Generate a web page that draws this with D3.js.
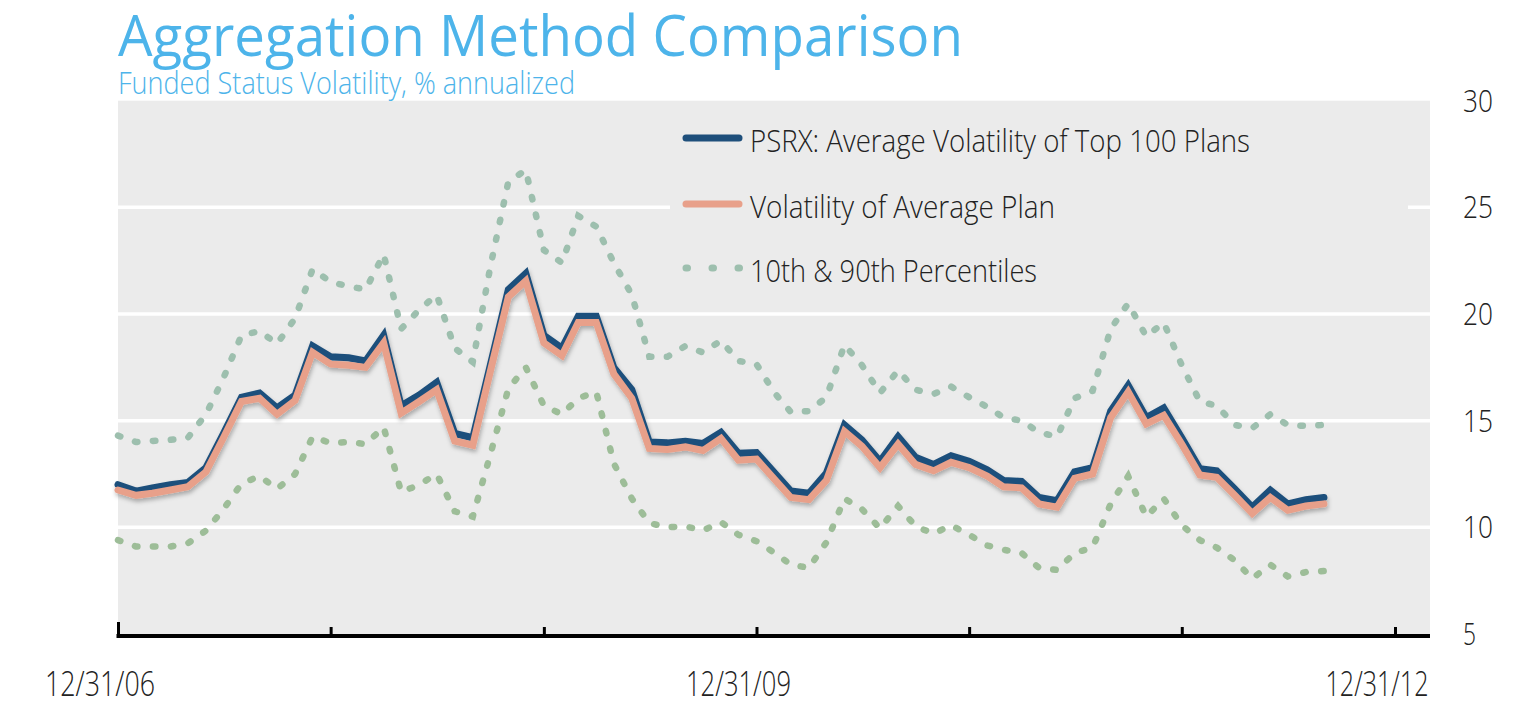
<!DOCTYPE html>
<html><head><meta charset="utf-8">
<script src="https://cdn.jsdelivr.net/npm/d3@7"></script>
<style>body{margin:0;background:#fff;} svg{display:block;}</style>
</head><body>
<svg id="chart" width="1536" height="719"></svg>
<script>
// ---- data ----
const firstMonth = "2007-01";   // month-end observations start at 12/31/06
const monthCount = 69;
const psrx = [12.0,11.7,11.85,12.0,12.1,12.8,14.4,16.1,16.3,15.6,16.2,18.5,
  18.0,17.95,17.8,19.0,15.7,16.2,16.8,14.4,14.2,17.6,21.15,21.9,
  19.0,18.4,19.9,19.9,17.5,16.45,14.0,13.96,14.04,13.93,14.45,13.47,
  13.5,12.55,11.7,11.6,12.55,14.8,14.1,13.1,14.25,13.28,12.95,13.36,
  13.1,12.7,12.2,12.15,11.4,11.25,12.6,12.8,15.45,16.65,15.15,15.6,
  14.2,12.75,12.65,11.8,10.95,11.75,11.1,11.3,11.4];
const avgPlan = [11.75,11.5,11.6,11.75,11.9,12.6,14.2,15.9,16.05,15.3,15.95,18.2,
  17.65,17.6,17.5,18.65,15.35,15.9,16.45,14.05,13.85,17.3,20.8,21.55,
  18.65,18.05,19.6,19.6,17.2,16.05,13.7,13.65,13.77,13.6,14.17,13.15,
  13.2,12.25,11.4,11.3,12.2,14.5,13.8,12.8,13.9,12.95,12.65,13.05,
  12.8,12.4,11.9,11.85,11.1,10.95,12.3,12.5,15.15,16.35,14.85,15.25,
  13.9,12.45,12.35,11.5,10.65,11.4,10.8,11.0,11.1];
const p90 = [14.3,14.0,14.05,14.1,14.2,15.3,17.0,19.0,19.2,18.6,19.8,22.1,
  21.5,21.3,21.15,22.8,19.3,20.2,20.9,18.4,17.75,22.2,26.2,26.75,
  23.0,22.4,24.6,24.1,22.4,20.9,18.0,18.0,18.5,18.2,18.75,17.8,
  17.65,16.3,15.4,15.45,16.1,18.55,17.6,16.3,17.35,16.45,16.25,16.6,
  16.1,15.65,15.15,15.0,14.45,14.25,16.05,16.4,19.3,20.5,18.95,19.6,
  17.6,15.9,15.7,14.8,14.65,15.3,14.8,14.75,14.8];
const p10 = [9.4,9.1,9.1,9.1,9.25,9.85,10.85,12.05,12.4,11.8,12.5,14.25,
  13.95,14.0,13.9,14.7,11.65,12.0,12.5,10.75,10.5,13.4,16.5,17.5,
  15.7,15.3,16.05,16.35,13.0,11.35,10.2,10.0,10.05,9.85,10.25,9.65,
  9.35,8.8,8.25,8.1,9.3,11.35,10.85,9.95,11.0,10.05,9.7,10.1,
  9.65,9.15,8.95,8.8,8.1,8.0,8.8,9.05,11.1,12.4,10.5,11.35,
  10.1,9.4,9.05,8.45,7.6,8.25,7.7,7.9,7.95];
const xTickDates = ["2006-12-31","2007-12-31","2008-12-31","2009-12-31","2010-12-31","2011-12-31","2012-12-31"];
const xLabelDates = ["2006-12-31","2009-12-31","2012-12-31"];
const xLabels = ["12/31/06","12/31/09","12/31/12"];
const yTicks = [5,10,15,20,25,30];
const yGrid = [10,15,20,25];
const legendLabels = ["PSRX: Average Volatility of Top 100 Plans","Volatility of Average Plan","10th & 90th Percentiles"];
const titleText = "Aggregation Method Comparison";
const subtitleText = "Funded Status Volatility, % annualized";

// ---- setup ----
const parse = d3.timeParse("%Y-%m-%d");
const start = d3.timeParse("%Y-%m")(firstMonth);
const dates = d3.range(monthCount).map(i => d3.timeDay.offset(d3.timeMonth.offset(start, i), -1));

const svg = d3.select("#chart");
const FONT = "'Open Sans', 'Noto Sans', sans-serif";
const x = d3.scaleTime().domain([parse("2006-12-31"), parse("2012-12-31")]).range([118, 1395]);
const y = d3.scaleLinear().domain([5, 30]).range([634, 100.7]);
const plotLeft = 118, plotRight = 1430;

const defs = svg.append("defs");
const f = defs.append("filter").attr("id","shadow").attr("x","-5%").attr("y","-10%").attr("width","110%").attr("height","130%");
f.append("feDropShadow").attr("dx",1).attr("dy",3).attr("stdDeviation",2.2).attr("flood-color","#000").attr("flood-opacity",0.28);

// background
svg.append("rect").attr("x", plotLeft).attr("y", y(30)).attr("width", plotRight - plotLeft).attr("height", y(5) - y(30)).attr("fill", "#ebebeb");

// gridlines
svg.append("g").selectAll("line").data(yGrid).join("line")
  .attr("x1", plotLeft).attr("x2", plotRight)
  .attr("y1", d => y(d)).attr("y2", d => y(d))
  .attr("stroke", "#fff").attr("stroke-width", 3.5);

// legend backdrop
svg.append("rect").attr("x", 670).attr("y", 112).attr("width", 738).attr("height", 186).attr("fill", "#ebebeb");

// percentiles
const line = d3.line().x((d, i) => x(dates[i])).y(d => y(d));
svg.append("path").datum(p90).attr("d", line).attr("fill","none")
  .attr("stroke","#9dbfae").attr("stroke-width",6.5).attr("stroke-linecap","round")
  .attr("stroke-dasharray","2.5 15.5");
svg.append("path").datum(p10).attr("d", line).attr("fill","none")
  .attr("stroke","#9dbd98").attr("stroke-width",6.5).attr("stroke-linecap","round")
  .attr("stroke-dasharray","2.5 15.5");

// main lines
const g = svg.append("g").attr("filter","url(#shadow)");
g.append("path").datum(psrx).attr("d", line).attr("fill","none")
  .attr("stroke","#1e4f7b").attr("stroke-width",7).attr("stroke-linejoin","miter").attr("stroke-linecap","round");
g.append("path").datum(avgPlan).attr("d", line).attr("fill","none")
  .attr("stroke","#e8a08a").attr("stroke-width",7).attr("stroke-linejoin","miter").attr("stroke-linecap","round");

// x axis
const xAxis = d3.axisBottom(x).tickValues(xTickDates.map(parse)).tickSizeInner(-9).tickSizeOuter(0).tickFormat("");
const ax = svg.append("g").attr("transform", `translate(0,${y(5) + 2})`).call(xAxis);
ax.select(".domain").remove();
ax.selectAll(".tick line").attr("stroke","#000").attr("stroke-width",3);
ax.select(".tick line").attr("y2", -14);
svg.append("line").attr("x1", plotLeft - 1.5).attr("x2", plotRight).attr("y1", y(5) + 2).attr("y2", y(5) + 2)
  .attr("stroke","#000").attr("stroke-width",4);

// x labels
const xLabelWidths = [110, 105, 103];
svg.append("g").selectAll("text").data(xLabels).join("text")
  .attr("x", (d, i) => x(parse(xLabelDates[i])) - 18)
  .attr("y", 696)
  .attr("text-anchor","middle")
  .attr("textLength", (d, i) => xLabelWidths[i]).attr("lengthAdjust","spacingAndGlyphs")
  .attr("font-family", FONT).attr("font-weight", 300).attr("font-size", 35).attr("fill","#222")
  .text(d => d);

// y labels (right)
svg.append("g").selectAll("text").data(yTicks).join("text")
  .attr("x", 1463).attr("y", d => y(d) + 11)
  .attr("textLength", d => d < 10 ? 13 : 30).attr("lengthAdjust","spacingAndGlyphs")
  .attr("font-family", FONT).attr("font-weight", 300).attr("font-size", 31).attr("fill","#222")
  .text(d => d);

// title
svg.append("text").attr("x", 118).attr("y", 56).text(titleText)
  .attr("font-family", FONT).attr("font-weight", 400).attr("font-size", 57).attr("fill","#4db4ea")
  .attr("textLength", 845).attr("lengthAdjust","spacingAndGlyphs");
svg.append("text").attr("x", 118).attr("y", 94).text(subtitleText)
  .attr("font-family", FONT).attr("font-weight", 300).attr("font-size", 32).attr("fill","#4db4ea")
  .attr("textLength", 457).attr("lengthAdjust","spacingAndGlyphs");

// legend
const legendY = [138, 204, 268];
const legendTextW = [500, 305, 287];
svg.append("line").attr("x1",686).attr("x2",739).attr("y1",legendY[0]).attr("y2",legendY[0])
  .attr("stroke","#1e4f7b").attr("stroke-width",7).attr("stroke-linecap","round");
svg.append("line").attr("x1",686).attr("x2",739).attr("y1",legendY[1]).attr("y2",legendY[1])
  .attr("stroke","#e8a08a").attr("stroke-width",7).attr("stroke-linecap","round");
svg.append("line").attr("x1",686).attr("x2",740).attr("y1",legendY[2]).attr("y2",legendY[2])
  .attr("stroke","#9dbfae").attr("stroke-width",7).attr("stroke-linecap","round").attr("stroke-dasharray","1.5 24.5");
svg.append("g").selectAll("text").data(legendLabels).join("text")
  .attr("x", 750).attr("y", (d, i) => legendY[i] + 14)
  .attr("textLength", (d, i) => legendTextW[i]).attr("lengthAdjust","spacingAndGlyphs")
  .attr("font-family", FONT).attr("font-weight", 300).attr("font-size", 31).attr("fill","#222")
  .text(d => d);
</script>
</body></html>
